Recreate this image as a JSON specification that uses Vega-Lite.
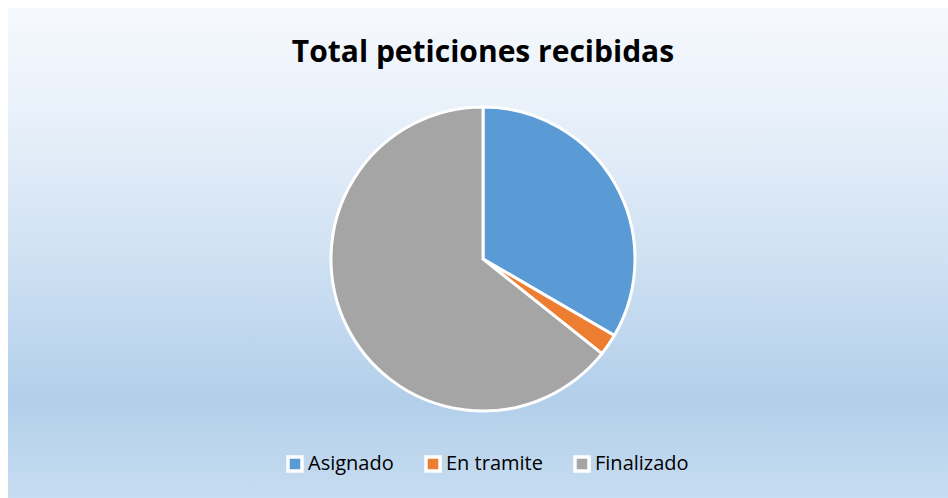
{
  "$schema": "https://vega.github.io/schema/vega-lite/v6.json",
  "width": 950,
  "height": 502,
  "autosize": {"type": "none"},
  "padding": {"left": 8, "top": 8, "right": 0, "bottom": 0},
  "background": "white",
  "title": {
    "text": "Total peticiones recibidas",
    "font": "Open Sans",
    "fontSize": 30,
    "fontWeight": "bold",
    "color": "#000000",
    "anchor": "middle",
    "frame": "group",
    "baseline": "alphabetic",
    "offset": -84
  },
  "layer": [
    {
      "data": {"values": [{"fondo": 1}]},
      "mark": {
        "type": "rect",
        "fill": {
          "gradient": "linear",
          "x1": 0, "y1": 0, "x2": 0, "y2": 1,
          "stops": [
            {"offset": 0, "color": "#f6f9fd"},
            {"offset": 0.2, "color": "#e9f1fa"},
            {"offset": 0.5, "color": "#cfe1f3"},
            {"offset": 0.78, "color": "#b2cfea"},
            {"offset": 1, "color": "#c9def1"}
          ]
        }
      },
      "encoding": {}
    },
    {
      "data": {
        "values": [
          {"estado": "Asignado", "valor": 33.4, "orden": 1},
          {"estado": "En tramite", "valor": 2.3, "orden": 2},
          {"estado": "Finalizado", "valor": 64.3, "orden": 3}
        ]
      },
      "mark": {"type": "arc", "radius": 152, "stroke": "white", "strokeWidth": 3},
      "encoding": {
        "theta": {"field": "valor", "type": "quantitative", "stack": true},
        "order": {"field": "orden", "type": "quantitative"},
        "color": {
          "field": "estado",
          "type": "nominal",
          "scale": {
            "domain": ["Asignado", "En tramite", "Finalizado"],
            "range": ["#5b9bd5", "#ed7d31", "#a5a5a5"]
          },
          "legend": {
            "title": null,
            "orient": "none",
            "direction": "horizontal",
            "legendX": 277,
            "legendY": 446,
            "padding": 0,
            "columnPadding": 25,
            "labelOffset": 3,
            "labelFont": "Open Sans",
            "labelFontSize": 20,
            "labelColor": "#000000",
            "symbolType": "square",
            "symbolSize": 196,
            "symbolStrokeColor": "white",
            "symbolStrokeWidth": 3.5,
            "symbolOpacity": 1
          }
        }
      }
    }
  ],
  "config": {"view": {"stroke": null}}
}
